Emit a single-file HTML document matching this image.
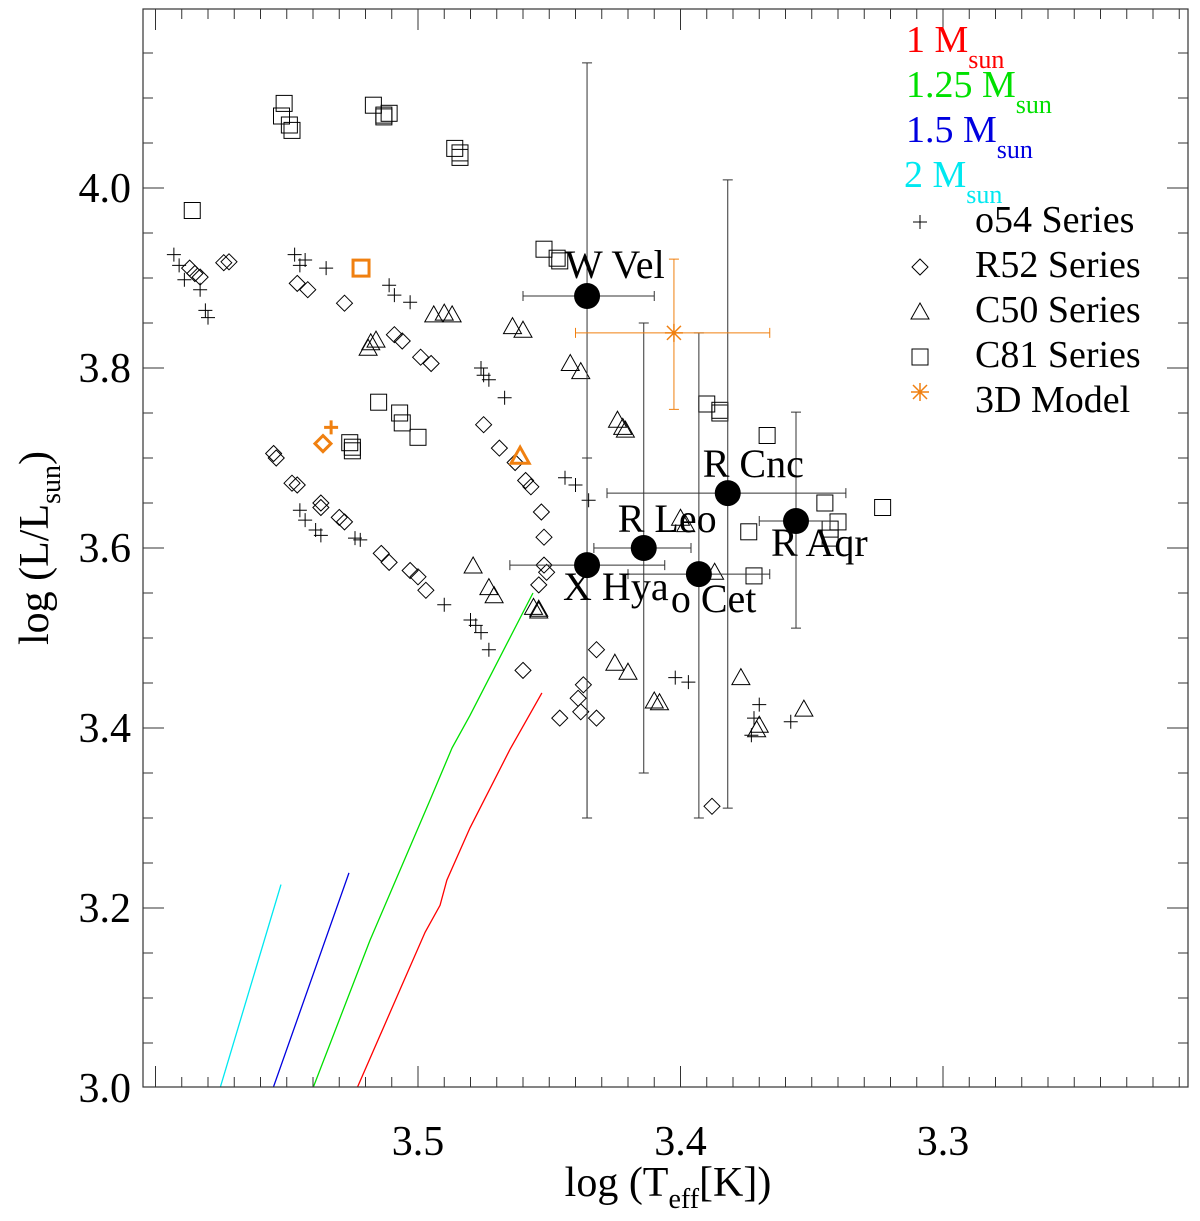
<!DOCTYPE html>
<html><head><meta charset="utf-8"><style>
html,body{margin:0;padding:0;background:#fff;}
svg text{font-family:"Liberation Serif",serif;}
</style></head><body>
<svg id="chart" width="1200" height="1216" viewBox="0 0 1200 1216" xmlns="http://www.w3.org/2000/svg">
<rect x="0" y="0" width="1200" height="1216" fill="#fff"/>
<g id="plot"></g>
<g id="axes"></g>
<text x="668" y="1196" font-size="42" text-anchor="middle">log (T<tspan font-size="28" dy="12">eff</tspan><tspan dy="-12">[K])</tspan></text>
<text transform="translate(48,548) rotate(-90)" font-size="42" text-anchor="middle">log (L/L<tspan font-size="28" dy="12">sun</tspan><tspan dy="-12">)</tspan></text>
<g font-size="38">
<text x="906" y="52" fill="#ff0000">1 M<tspan font-size="26" dy="16">sun</tspan></text>
<text x="906" y="97" fill="#00e000">1.25 M<tspan font-size="26" dy="16">sun</tspan></text>
<text x="906" y="142" fill="#0000e0">1.5 M<tspan font-size="26" dy="16">sun</tspan></text>
<text x="904" y="187" fill="#00e8f0">2 M<tspan font-size="26" dy="16">sun</tspan></text>
<text x="975" y="232">o54 Series</text>
<text x="975" y="277">R52 Series</text>
<text x="975" y="322">C50 Series</text>
<text x="975" y="367">C81 Series</text>
<text x="975" y="412">3D Model</text>
</g>
</svg>
<script>
const plusX=[3.593,3.591,3.589,3.583,3.581,3.580,3.547,3.545,3.543,3.535,3.511,3.509,3.503,3.476,3.475,3.473,3.467,3.444,3.440,3.435,3.545,3.543,3.539,3.537,3.524,3.522,3.490,3.480,3.478,3.476,3.473,3.402,3.397,3.370,3.372,3.373,3.358];
const plusY=[3.926,3.914,3.898,3.887,3.864,3.856,3.926,3.914,3.920,3.911,3.892,3.881,3.873,3.800,3.792,3.787,3.767,3.678,3.670,3.653,3.642,3.631,3.620,3.614,3.611,3.609,3.537,3.520,3.514,3.506,3.487,3.456,3.451,3.426,3.411,3.392,3.407];
const diamX=[3.587,3.585,3.583,3.572,3.574,3.546,3.542,3.528,3.509,3.506,3.499,3.495,3.555,3.554,3.548,3.546,3.537,3.537,3.530,3.528,3.514,3.511,3.503,3.500,3.497,3.475,3.469,3.463,3.459,3.457,3.453,3.452,3.452,3.451,3.454,3.460,3.446,3.439,3.437,3.438,3.432,3.432,3.388];
const diamY=[3.911,3.905,3.901,3.918,3.917,3.894,3.887,3.872,3.837,3.830,3.812,3.805,3.705,3.700,3.672,3.670,3.650,3.645,3.634,3.629,3.594,3.584,3.575,3.568,3.553,3.737,3.711,3.695,3.675,3.668,3.640,3.612,3.581,3.573,3.559,3.464,3.411,3.433,3.448,3.418,3.487,3.411,3.313];
const triX=[3.494,3.490,3.487,3.519,3.518,3.516,3.464,3.460,3.442,3.438,3.424,3.422,3.421,3.479,3.473,3.471,3.456,3.454,3.454,3.425,3.420,3.410,3.408,3.377,3.371,3.370,3.353,3.398,3.400,3.387];
const triY=[3.859,3.861,3.859,3.822,3.828,3.831,3.846,3.842,3.805,3.796,3.742,3.734,3.731,3.580,3.556,3.547,3.534,3.532,3.530,3.472,3.462,3.430,3.428,3.456,3.398,3.403,3.421,3.626,3.633,3.573];
const sqX=[3.586,3.551,3.552,3.549,3.548,3.517,3.513,3.513,3.511,3.486,3.484,3.484,3.452,3.447,3.446,3.515,3.507,3.506,3.500,3.526,3.525,3.525,3.390,3.385,3.385,3.367,3.374,3.345,3.340,3.343,3.343,3.323,3.372];
const sqY=[3.975,4.094,4.080,4.070,4.064,4.092,4.081,4.079,4.083,4.044,4.039,4.034,3.932,3.922,3.919,3.762,3.750,3.739,3.723,3.717,3.712,3.708,3.760,3.753,3.750,3.725,3.618,3.650,3.629,3.621,3.611,3.645,3.569];
const starNames=["W Vel","X Hya","R Leo","o Cet","R Cnc","R Aqr"];
const starX=[3.4356,3.4356,3.414,3.393,3.382,3.356];
const starY=[3.880,3.581,3.600,3.571,3.661,3.630];
const starXlo=[3.460,3.465,3.433,3.420,3.428,3.370];
const starXhi=[3.410,3.406,3.396,3.366,3.337,3.343];
const starYlo=[3.300,3.300,3.350,3.300,3.311,3.511];
const starYhi=[4.139,3.700,3.850,3.839,4.009,3.751];
const modelX=[3.4025], modelY=[3.839], modelXlo=[3.440], modelXhi=[3.366], modelYlo=[3.754], modelYhi=[3.921];
const orangeSq=[3.5217,3.911], orangePlus=[3.5331,3.734], orangeDiam=[3.5362,3.716], orangeTri=[3.4611,3.702];
const track1X=[3.5232,3.5069,3.4973,3.4916,3.489,3.4802,3.465,3.4528];
const track1Y=[3.0,3.109,3.173,3.203,3.231,3.289,3.376,3.439];
const track125X=[3.54,3.5183,3.4954,3.487,3.4802,3.4562];
const track125Y=[3.0,3.164,3.32,3.378,3.414,3.55];
const track15X=[3.5552,3.5263], track15Y=[3.0,3.239];
const track2X=[3.5754,3.5522], track2Y=[3.0,3.226];
const xTicks=["3.5","3.4","3.3"], yTicks=["3.0","3.2","3.4","3.6","3.8","4.0"];

const L=143,R=1188,T=9,B=1087;
const sx=v=>418-(v-3.5)*2625;
const sy=v=>1088-(v-3.0)*900;
const NS="http://www.w3.org/2000/svg";
const plot=document.getElementById('plot'), axes=document.getElementById('axes');
function mk(tag,attrs,parent){const e=document.createElementNS(NS,tag);for(const k in attrs)e.setAttribute(k,attrs[k]);(parent||plot).appendChild(e);return e;}
const clip=mk('clipPath',{id:'clp'},plot);mk('rect',{x:L,y:T,width:R-L,height:B-T},clip);
const g=mk('g',{'clip-path':'url(#clp)'});
function poly(xs,ys,color,name){const e=mk('polyline',{points:xs.map((x,i)=>sx(x)+','+sy(ys[i])).join(' '),fill:'none',stroke:color,'stroke-width':1.3},g);

}
poly(track1X,track1Y,'#ff0000','track-1msun');
poly(track125X,track125Y,'#00e000','track-125msun');
poly(track15X,track15Y,'#0000e0','track-15msun');
poly(track2X,track2Y,'#00e8f0','track-2msun');
function plus(cx,cy,c,w){return mk('path',{d:`M${cx-7},${cy}h14M${cx},${cy-7}v14`,stroke:c,'stroke-width':w,fill:'none'},g);}
function diam(cx,cy,c,w){return mk('path',{d:`M${cx},${cy-8}l8,8l-8,8l-8,-8z`,stroke:c,'stroke-width':w,fill:'none'},g);}
function tri(cx,cy,c,w){return mk('path',{d:`M${cx},${cy-9}l9,16h-18z`,stroke:c,'stroke-width':w,fill:'none'},g);}
function sq(cx,cy,c,w){return mk('rect',{x:cx-8,y:cy-8,width:16,height:16,stroke:c,'stroke-width':w,fill:'none'},g);}
plusX.forEach((x,i)=>{const e=plus(sx(x),sy(plusY[i]),'#000',1);

});
diamX.forEach((x,i)=>{const e=diam(sx(x),sy(diamY[i]),'#000',1);

});
triX.forEach((x,i)=>{const e=tri(sx(x),sy(triY[i]),'#000',1);

});
sqX.forEach((x,i)=>{const e=sq(sx(x),sy(sqY[i]),'#000',1);

});
const OR='#f08010';
let o=sq(sx(orangeSq[0]),sy(orangeSq[1]),OR,3);


o=plus(sx(orangePlus[0]),sy(orangePlus[1]),OR,3);


o=diam(sx(orangeDiam[0]),sy(orangeDiam[1]),OR,3);


o=tri(sx(orangeTri[0]),sy(orangeTri[1]),OR,3);


function errbar(x,y,xlo,xhi,ylo,yhi,c){const X=sx(x),Y=sy(y),x1=sx(xlo),x2=sx(xhi),y1=sy(ylo),y2=sy(yhi);
return mk('path',{d:`M${x1},${Y}H${x2}M${x1},${Y-5}v10M${x2},${Y-5}v10M${X},${y1}V${y2}M${X-5},${y1}h10M${X-5},${y2}h10`,stroke:c,'stroke-width':1,fill:'none'},g);}
starX.forEach((x,i)=>{const e=errbar(x,starY[i],starXlo[i],starXhi[i],starYlo[i],starYhi[i],'#333');

});
const me=errbar(modelX[0],modelY[0],modelXlo[0],modelXhi[0],modelYlo[0],modelYhi[0],OR);


const mx=sx(modelX[0]),my=sy(modelY[0]);
const ast=mk('path',{d:`M${mx-9},${my}h18M${mx},${my-9}v18M${mx-7},${my-7}l14,14M${mx-7},${my+7}l14,-14`,stroke:OR,'stroke-width':1.5},g);


const loff=[[-22,-18],[-24,35],[-26,-16],[-28,38],[-25,-16],[-25,35]];
starX.forEach((x,i)=>{const c=mk('circle',{cx:sx(x),cy:sy(starY[i]),r:13,fill:'#000'},g);


const t=mk('text',{x:sx(x)+loff[i][0],y:sy(starY[i])+loff[i][1],'font-size':40,'text-anchor':'start'},g);
t.textContent=starNames[i];

});
// axes
const fr=mk('rect',{x:L,y:T,width:R-L,height:B-T,fill:'none',stroke:'#333','stroke-width':1.2},axes);


let d='';
for(let k=-10;k<=40;k++){const v=3.6-k*0.01;const X=sx(v);if(X<=L+1||X>=R-1)continue;const major=Math.abs(Math.round(v*10)-v*10)<1e-6;const len=major?21:10;d+=`M${X},${B}v${-len}M${X},${T}v${len}`;}
for(let k=1;k<24;k++){const v=3.0+k*0.05;const Y=sy(v);if(Y<=T)continue;const major=k%4==0;const len=major?21:10;d+=`M${L},${Y}h${len}M${R},${Y}h${-len}`;}
mk('path',{d:d,stroke:'#333','stroke-width':1},axes);
xTicks.forEach(s=>{const t=mk('text',{x:sx(+s),y:1155,'font-size':42,'text-anchor':'middle'},axes);t.textContent=s;

});
yTicks.forEach(s=>{const t=mk('text',{x:131,y:sy(+s)+14,'font-size':42,'text-anchor':'end'},axes);t.textContent=s;

});
// legend symbols
const lg=[['o54',232],['r52',277],['c50',322],['c81',367]];
const fns=[plus,diam,tri,sq];
lg.forEach((l,i)=>{const e=fns[i](920,l[1]-10,'#000',1);axes.appendChild(e);

});
const la=mk('path',{d:`M911,392h18M920,383v18M913,385l14,14M913,399l14,-14`,stroke:OR,'stroke-width':1.5},axes);


</script>
</body></html>
